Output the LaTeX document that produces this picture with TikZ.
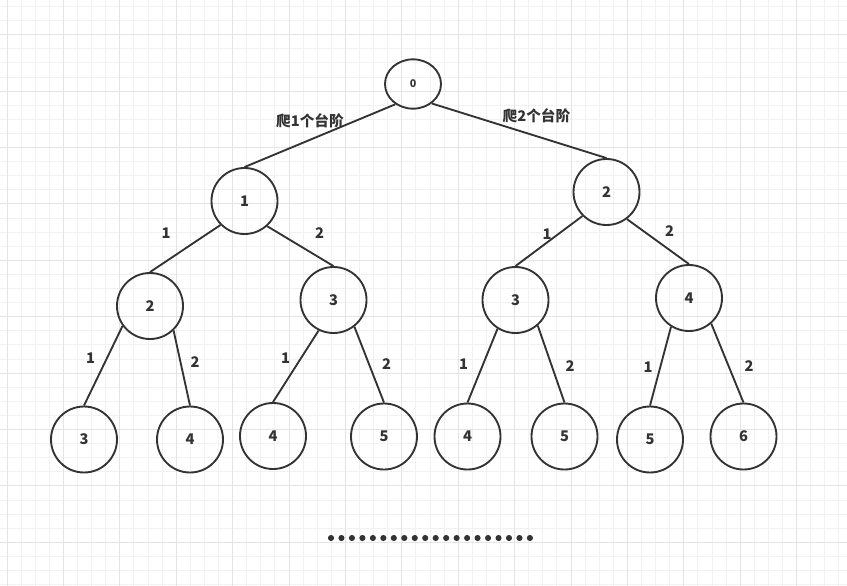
\documentclass[tikz,border=0pt]{standalone}
\usepackage{xcolor}
\usepackage{fontspec}
\usepackage{tikz}
\usetikzlibrary{shapes.geometric}
\newfontfamily\cjk{Noto Sans CJK SC}
\definecolor{ink}{HTML}{333333}
\definecolor{gridmin}{HTML}{F1F1F1}
\definecolor{gridmaj}{HTML}{E4E4E4}
\tikzset{
  stepnode/.style={draw=ink,circle,line width=1.4pt,minimum size=49.5pt,inner sep=0pt,
                   font=\cjk\bfseries\fontsize{11}{13}\selectfont,text=ink},
  rootnode/.style={draw=ink,ellipse,line width=1.4pt,minimum width=42pt,minimum height=37pt,
                   inner sep=0pt,font=\cjk\bfseries\fontsize{8}{10}\selectfont,text=ink},
  lbl/.style={font=\cjk\bfseries\fontsize{11}{13}\selectfont,text=ink,inner sep=0pt},
  link/.style={ink,line width=1.4pt},
  gmin/.style={gridmin,line width=0.75pt},
  gmaj/.style={gridmaj,line width=0.75pt},
}

\begin{document}
\begin{tikzpicture}[x=0.75pt,y=-0.75pt]
  \useasboundingbox (0,0) rectangle (847,586);
  \fill[white] (0,0) rectangle (847,586);
  \foreach \i in {0,...,59} \draw[gmin] ({7+14.1*\i},0) -- ({7+14.1*\i},586);
  \foreach \i in {0,...,41} \draw[gmin] (0,{6.5+14.1*\i}) -- (847,{6.5+14.1*\i});
  \foreach \i in {0,4,...,56} \draw[gmaj] ({7+14.1*\i},0) -- ({7+14.1*\i},586);
  \foreach \i in {2,6,...,38} \draw[gmaj] (0,{6.5+14.1*\i}) -- (847,{6.5+14.1*\i});

  \node[rootnode] (s0)   at (413,84)      {0};
  \node[stepnode] (s1)   at (244.5,201)   {1};
  \node[stepnode] (s2)   at (606.5,192)   {2};
  \node[stepnode] (s11)  at (150,306)     {2};
  \node[stepnode] (s12)  at (333.5,300)   {3};
  \node[stepnode] (s21)  at (515.5,300)   {3};
  \node[stepnode] (s22)  at (689,298)     {4};
  \node[stepnode] (s111) at (84,439.5)    {3};
  \node[stepnode] (s112) at (190,439.5)   {4};
  \node[stepnode] (s121) at (273,436)     {4};
  \node[stepnode] (s122) at (384,436.5)   {5};
  \node[stepnode] (s211) at (467.5,436.5) {4};
  \node[stepnode] (s212) at (564.5,436.5) {5};
  \node[stepnode] (s221) at (650,439.5)   {5};
  \node[stepnode] (s222) at (743.5,436.5) {6};

  \draw[link] (s0.229)  -- (s1.north);
  \draw[link] (s0.314)  -- (s2.north);
  \draw[link] (s1.225)  -- (s11.north);
  \draw[link] (s1.312)  -- (s12.north);
  \draw[link] (s2.225)  -- (s21.north);
  \draw[link] (s2.307)  -- (s22.north);
  \draw[link] (s11.216) -- (s111.north);
  \draw[link] (s11.314) -- (s112.north);
  \draw[link] (s12.244) -- (s121.north);
  \draw[link] (s12.308) -- (s122.north);
  \draw[link] (s21.238) -- (s211.north);
  \draw[link] (s21.311) -- (s212.north);
  \draw[link] (s22.238) -- (s221.north);
  \draw[link] (s22.311) -- (s222.north);

  \node[lbl] (t0a) at (310,121)   {爬1个台阶};
  \node[lbl] (t0b) at (536.5,116) {爬2个台阶};
  \node[lbl] (t1a) at (166,233)   {1};
  \node[lbl] (t1b) at (319.5,233) {2};
  \node[lbl] (t2a) at (547,234)   {1};
  \node[lbl] (t2b) at (669.5,231.5) {2};
  \node[lbl] (t11a) at (90.5,358.5) {1};
  \node[lbl] (t11b) at (195,362)  {2};
  \node[lbl] (t12a) at (285.5,358.5) {1};
  \node[lbl] (t12b) at (386.5,364.5) {2};
  \node[lbl] (t21a) at (463.5,364) {1};
  \node[lbl] (t21b) at (570,366.5) {2};
  \node[lbl] (t22a) at (648,367)  {1};
  \node[lbl] (t22b) at (749,366)  {2};

  \foreach \k in {0,...,19} \fill[ink] ({331+10.47*\k},538) circle[radius=2.3pt];
\end{tikzpicture}
\end{document}
